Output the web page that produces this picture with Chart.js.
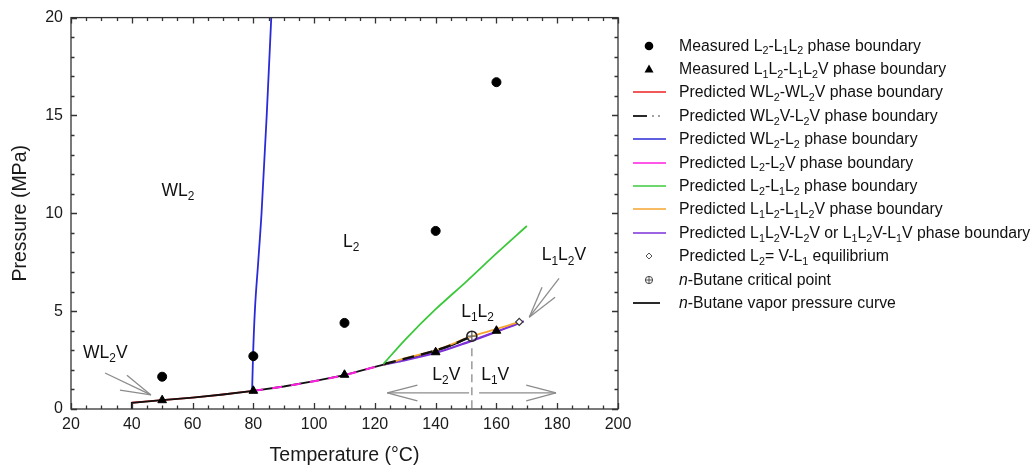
<!DOCTYPE html>
<html><head><meta charset="utf-8">
<script src="https://cdn.jsdelivr.net/npm/chart.js@4.4.1/dist/chart.umd.min.js"></script>
<style>
html,body{margin:0;padding:0;background:#fff;}
#wrap{position:relative;width:1034px;height:470px;font-family:"Liberation Sans",Arial,sans-serif;color:#111;}
#chartBox{position:absolute;left:0;top:0;width:640px;height:470px;}
#legend{position:absolute;left:632px;top:34px;font-size:15.8px;}
.row{height:23.4px;display:flex;align-items:center;white-space:nowrap;}
.row svg{flex:none;margin-right:13px;}
.lab{position:absolute;font-size:17.5px;white-space:nowrap;transform:translate(-50%,-50%);line-height:1;}
sub{font-size:68%;vertical-align:baseline;position:relative;top:0.35em;line-height:0;}
</style>
</head><body>
<div id="wrap">
  <div id="chartBox"><canvas id="c" width="640" height="470"></canvas></div>
  <div id="legend"></div>
  <div id="labels"></div>
</div>
<script>
// ---- data ----
const circleT = [50, 80, 110, 140, 160];
const circleP = [1.65, 2.7, 4.4, 9.1, 16.7];
const triT = [50, 80, 110, 140, 160];
const triP = [0.45, 0.93, 1.75, 2.9, 4.0];
const vaporT = [40, 40, 50, 60, 70, 80, 90, 100, 110, 120, 130, 140, 146, 151.9];
const vaporP = [0, 0.32, 0.45, 0.58, 0.74, 0.93, 1.15, 1.42, 1.73, 2.15, 2.55, 2.97, 3.3, 3.72];
const redT = [40, 50, 60, 70, 80];
const redP = [0.32, 0.45, 0.58, 0.74, 0.93];
const magentaT = [80, 90, 100, 110, 120, 123];
const magentaP = [0.93, 1.15, 1.42, 1.73, 2.15, 2.27];
const blackDashT = [123, 130, 140, 146, 151.9];
const blackDashP = [2.3, 2.57, 2.99, 3.32, 3.72];
const blueT = [79.6, 79.9, 80.5, 81.6, 82.7, 84.4, 85.9];
const blueP = [0.93, 2.7, 5, 7.5, 10, 15, 20];
const greenT = [122.8, 130, 140, 150, 160, 170];
const greenP = [2.3, 3.55, 5.1, 6.5, 7.95, 9.35];
const orangeT = [123, 130, 140, 152, 160, 167.5];
const orangeP = [2.27, 2.6, 3.0, 3.72, 4.08, 4.45];
const purpleT = [123, 130, 140, 150, 160, 166, 169];
const purpleP = [2.27, 2.5, 2.86, 3.38, 3.95, 4.3, 4.48];
const diamondT = [167.5];
const diamondP = [4.45];
const criticalT = [151.9];
const criticalP = [3.72];

const xMin = 20, xMax = 200, xStep = 20;
const yMin = 0, yMax = 20, yStep = 5;

const legendNames = [
  'Measured L<sub>2</sub>-L<sub>1</sub>L<sub>2</sub> phase boundary',
  'Measured L<sub>1</sub>L<sub>2</sub>-L<sub>1</sub>L<sub>2</sub>V phase boundary',
  'Predicted WL<sub>2</sub>-WL<sub>2</sub>V phase boundary',
  'Predicted WL<sub>2</sub>V-L<sub>2</sub>V phase boundary',
  'Predicted WL<sub>2</sub>-L<sub>2</sub> phase boundary',
  'Predicted L<sub>2</sub>-L<sub>2</sub>V phase boundary',
  'Predicted L<sub>2</sub>-L<sub>1</sub>L<sub>2</sub> phase boundary',
  'Predicted L<sub>1</sub>L<sub>2</sub>-L<sub>1</sub>L<sub>2</sub>V phase boundary',
  'Predicted L<sub>1</sub>L<sub>2</sub>V-L<sub>2</sub>V or L<sub>1</sub>L<sub>2</sub>V-L<sub>1</sub>V phase boundary',
  'Predicted L<sub>2</sub>= V-L<sub>1</sub> equilibrium',
  '<i>n</i>-Butane critical point',
  '<i>n</i>-Butane vapor pressure curve'
];

// region labels (data coordinates)
const regionText = ['WL<sub>2</sub>', 'L<sub>2</sub>', 'L<sub>1</sub>L<sub>2</sub>', 'L<sub>1</sub>L<sub>2</sub>V', 'WL<sub>2</sub>V', 'L<sub>2</sub>V', 'L<sub>1</sub>V'];
const regionT = [55.2, 112.2, 153.8, 182.2, 31.3, 143.5, 159.6];
const regionP = [11.15, 8.55, 4.95, 7.85, 2.85, 1.73, 1.73];

// annotation arrows (segments in data coordinates: T1,P1,T2,P2)
const arrowSegs = [
  [31.2, 1.84, 46.3, 0.72], [38.4, 1.73, 46.3, 0.72], [36.1, 0.97, 46.3, 0.72],
  [180.6, 6.68, 170.8, 4.69], [175.0, 6.22, 170.8, 4.69], [179.3, 5.71, 170.8, 4.69],
  [124.1, 0.82, 151.0, 0.82], [124.1, 0.82, 134.0, 1.22], [124.1, 0.82, 134.0, 0.41],
  [154.3, 0.82, 179.6, 0.82], [179.6, 0.82, 169.8, 1.22], [179.6, 0.82, 169.8, 0.41]
];
const dividerT = 151.9, dividerPTop = 3.1;

const pts = (T, P) => T.map((t, i) => ({x: t, y: P[i]}));

function lineDs(T, P, color, order, extra) {
  return Object.assign({type: 'line', data: pts(T, P), borderColor: color, borderWidth: 1.8,
    pointRadius: 0, fill: false, tension: 0.3, order: order}, extra || {});
}

const datasets = [
  {type: 'scatter', data: pts(circleT, circleP), pointStyle: 'circle', pointRadius: 4.5,
    backgroundColor: '#000', borderColor: '#000', order: 0},
  {type: 'scatter', data: pts(triT, triP), pointStyle: 'triangle', pointRadius: 5,
    backgroundColor: '#000', borderColor: '#000', order: 0},
  {type: 'scatter', data: pts(diamondT, diamondP), pointStyle: 'rectRot', pointRadius: 3.5,
    backgroundColor: '#fff', borderColor: '#333', borderWidth: 1.2, order: 0},
  {type: 'scatter', data: pts(criticalT, criticalP), pointStyle: 'circle', pointRadius: 5,
    backgroundColor: 'rgba(255,255,255,0.3)', borderColor: '#222', borderWidth: 1.6, order: 0},
  {type: 'scatter', data: pts(criticalT, criticalP), pointStyle: 'cross', pointRadius: 4.5,
    borderColor: '#222', borderWidth: 1.3, order: 0},
  lineDs(blueT, blueP, '#2a2ad6', 1, {cubicInterpolationMode: 'monotone'}),
  lineDs(greenT, greenP, '#3cc83c', 2),
  lineDs(blackDashT, blackDashP, '#111', 3, {borderDash: [12, 7], borderWidth: 2.4}),
  lineDs(orangeT, orangeP, '#f5a530', 4),
  lineDs(purpleT, purpleP, '#7b30d8', 5, {borderWidth: 2.2}),
  lineDs(magentaT, magentaP, '#ff1fe0', 6, {borderDash: [10, 9], borderWidth: 2}),
  lineDs(vaporT, vaporP, '#111', 7, {tension: 0, borderWidth: 1.8}),
  lineDs(redT, redP, '#ee2020', 8)
];

function tx(chart, v) { return chart.scales.x.getPixelForValue(v); }
function ty(chart, v) { return chart.scales.y.getPixelForValue(v); }

const overlay = {
  id: 'overlay',
  beforeDatasetsDraw(chart) {
    const ctx = chart.ctx;
    ctx.save();
    ctx.strokeStyle = '#8c8c8c';
    ctx.lineWidth = 1.3;
    arrowSegs.forEach(s => {
      ctx.beginPath();
      ctx.moveTo(tx(chart, s[0]), ty(chart, s[1]));
      ctx.lineTo(tx(chart, s[2]), ty(chart, s[3]));
      ctx.stroke();
    });
    ctx.setLineDash([8, 5]);
    ctx.strokeStyle = '#a0a0a0';
    ctx.lineWidth = 1.6;
    ctx.beginPath();
    ctx.moveTo(tx(chart, dividerT), ty(chart, dividerPTop));
    ctx.lineTo(tx(chart, dividerT), ty(chart, 0));
    ctx.stroke();
    ctx.restore();
  },
  afterDraw(chart) {
    const ctx = chart.ctx, a = chart.chartArea;
    ctx.save();
    ctx.strokeStyle = '#333';
    ctx.lineWidth = 1.3;
    ctx.strokeRect(a.left, a.top, a.right - a.left, a.bottom - a.top);
    ctx.beginPath();
    for (let v = xMin; v <= xMax; v += 5) {
      const x = Math.round(tx(chart, v)) + 0.5;
      const len = (v % xStep === 0) ? 6 : 3.5;
      ctx.moveTo(x, a.bottom); ctx.lineTo(x, a.bottom - len);
      ctx.moveTo(x, a.top); ctx.lineTo(x, a.top + len);
    }
    for (let v = yMin; v <= yMax; v += 1) {
      const y = Math.round(ty(chart, v)) + 0.5;
      const len = (v % yStep === 0) ? 6 : 3.5;
      ctx.moveTo(a.left, y); ctx.lineTo(a.left + len, y);
      ctx.moveTo(a.right, y); ctx.lineTo(a.right - len, y);
    }
    ctx.stroke();
    ctx.restore();
  },
  afterRender(chart) {
    const box = document.getElementById('labels');
    if (box.childElementCount) return;
    regionText.forEach((t, i) => {
      const d = document.createElement('div');
      d.className = 'lab';
      d.innerHTML = t;
      d.style.left = tx(chart, regionT[i]) + 'px';
      d.style.top = ty(chart, regionP[i]) + 'px';
      box.appendChild(d);
    });
  }
};

new Chart(document.getElementById('c'), {
  type: 'scatter',
  data: {datasets: datasets},
  plugins: [overlay],
  options: {
    responsive: false,
    animation: false,
    layout: {padding: {left: 0, right: 22, top: 16, bottom: 0}},
    plugins: {legend: {display: false}, tooltip: {enabled: false}},
    scales: {
      x: {
        type: 'linear', min: xMin, max: xMax,
        grid: {display: false, drawTicks: false}, border: {display: false},
        ticks: {stepSize: xStep, padding: 6, color: '#1a1a1a', font: {family: 'Liberation Sans', size: 16}},
        title: {display: true, text: 'Temperature (°C)', color: '#1a1a1a', padding: {top: 0, bottom: 3},
          font: {family: 'Liberation Sans', size: 19.5}},
        afterFit(s) { s.height = 61; }
      },
      y: {
        type: 'linear', min: yMin, max: yMax,
        grid: {display: false, drawTicks: false}, border: {display: false},
        ticks: {stepSize: yStep, padding: 8, color: '#1a1a1a', font: {family: 'Liberation Sans', size: 16}},
        title: {display: true, text: 'Pressure (MPa)', color: '#1a1a1a', padding: {top: 9, bottom: 0},
          font: {family: 'Liberation Sans', size: 19.5}},
        afterFit(s) { s.width = 71; }
      }
    }
  }
});

// ---- HTML legend ----
const legendSymbols = [
  '<circle cx="17" cy="8" r="4.3" fill="#000"/>',
  '<polygon points="17,3.5 21.5,11.5 12.5,11.5" fill="#000"/>',
  '<line x1="1" y1="8" x2="34" y2="8" stroke="#ee2020" stroke-width="1.6"/>',
  '<line x1="1" y1="8" x2="15" y2="8" stroke="#111" stroke-width="1.8"/><circle cx="21" cy="8" r="0.9" fill="#777"/><circle cx="27" cy="8" r="0.9" fill="#777"/>',
  '<line x1="1" y1="8" x2="34" y2="8" stroke="#2a2ad6" stroke-width="1.6"/>',
  '<line x1="1" y1="8" x2="34" y2="8" stroke="#ff1fe0" stroke-width="1.6"/>',
  '<line x1="1" y1="8" x2="34" y2="8" stroke="#3cc83c" stroke-width="1.6"/>',
  '<line x1="1" y1="8" x2="34" y2="8" stroke="#f5a530" stroke-width="1.6"/>',
  '<line x1="1" y1="8" x2="34" y2="8" stroke="#7b30d8" stroke-width="1.6"/>',
  '<polygon points="17,5 20,8 17,11 14,8" fill="#fff" stroke="#555" stroke-width="1"/>',
  '<circle cx="17" cy="8" r="3.6" fill="#fff" stroke="#444" stroke-width="1"/><line x1="13.4" y1="8" x2="20.6" y2="8" stroke="#444" stroke-width="0.9"/><line x1="17" y1="4.4" x2="17" y2="11.6" stroke="#444" stroke-width="0.9"/>',
  '<line x1="1" y1="8" x2="28" y2="8" stroke="#111" stroke-width="1.8"/>'
];
const lg = document.getElementById('legend');
legendNames.forEach((n, i) => {
  const r = document.createElement('div');
  r.className = 'row';
  r.innerHTML = '<svg width="34" height="16" viewBox="0 0 34 16">' + legendSymbols[i] + '</svg><span>' + n + '</span>';
  lg.appendChild(r);
});
</script>
</body></html>
